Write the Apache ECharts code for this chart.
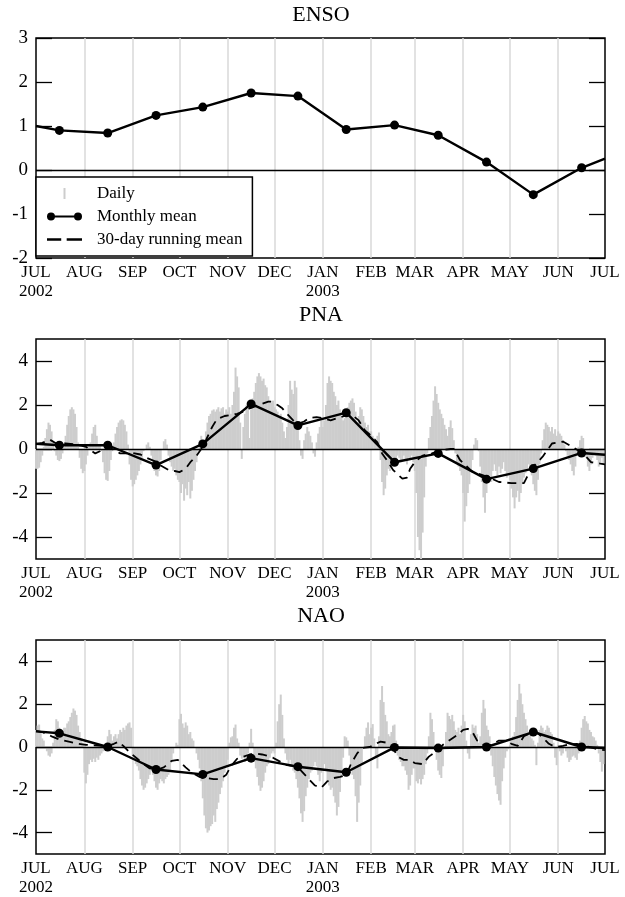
<!DOCTYPE html>
<html>
<head>
<meta charset="utf-8">
<title>ENSO / PNA / NAO</title>
<script src="https://cdn.jsdelivr.net/npm/echarts@6/dist/echarts.min.js"></script>
<style>
html, body { margin: 0; padding: 0; background: #fff; }
#chart { width: 625px; height: 897px; }
</style>
</head>
<body>
<div id="chart"></div>
<script>
// month names for the axis labels
var monthNames = ['JAN','FEB','MAR','APR','MAY','JUN','JUL','AUG','SEP','OCT','NOV','DEC'];

// monthly means sit on the 16th; first and last entries are the line at the frame edges
var monthDates = ['2002-07-01','2002-07-16','2002-08-16','2002-09-16','2002-10-16','2002-11-16','2002-12-16',
  '2003-01-16','2003-02-16','2003-03-16','2003-04-16','2003-05-16','2003-06-16','2003-07-01'];
var ensoMonthly = [1.0, 0.9, 0.84, 1.24, 1.43, 1.75, 1.68, 0.92, 1.02, 0.79, 0.18, -0.56, 0.05, 0.26];
var pnaMonthly = [0.24, 0.17, 0.17, -0.73, 0.23, 2.05, 1.07, 1.65, -0.6, -0.2, -1.37, -0.89, -0.18, -0.26];
var naoMonthly = [0.73, 0.64, 0.0, -1.05, -1.28, -0.52, -0.92, -1.18, -0.02, -0.05, 0.0, 0.7, 0.0, -0.05];

// daily index values, Jul 1 2002 .. Jun 30 2003
var pnaDaily = [
  -0.9,-0.9,-0.85,-0.6,-0.3,0.1,0.5,0.9,1.2,1.1,0.8,0.3,-0.1,-0.3,-0.5,-0.55,-0.45,-0.2,0.1,0.6,1.1,1.5,1.8,1.9,1.8,1.6,1.0,0.3,-0.4,-0.9,-1.1,
  -1.0,-0.7,-0.3,0.1,0.3,0.7,1.0,1.1,0.6,0.2,0.2,-0.1,-0.6,-1.1,-1.4,-1.45,-1.0,-0.5,-0.1,0.3,0.7,1.0,1.2,1.3,1.35,1.3,1.1,0.8,0.2,-0.7,-1.4,
  -1.7,-1.6,-1.4,-1.2,-1.0,-0.7,-0.4,-0.1,0.0,0.2,0.3,0.1,-0.3,-0.7,-1.0,-1.2,-1.25,-1.0,-0.5,0.0,0.35,0.45,0.2,-0.3,-0.6,-0.8,-1.0,-0.9,-1.2,-1.4,
  -1.5,-2.0,-1.6,-2.35,-1.8,-2.1,-1.5,-2.25,-1.9,-1.4,-1.0,-0.6,-0.1,0.4,0.6,0.3,0.2,0.8,1.2,1.5,1.6,1.75,1.8,1.7,1.8,1.9,1.7,1.85,1.9,1.6,1.8,
  1.7,1.9,1.6,2.0,2.6,3.7,3.3,2.8,1.2,-0.45,1.0,1.6,2.0,1.8,0.5,1.8,2.3,2.6,3.0,3.3,3.45,3.3,3.1,3.2,2.9,2.8,2.4,2.2,2.1,2.2,
  1.9,1.8,1.7,1.5,1.6,1.2,0.8,0.5,1.0,2.0,3.1,2.7,2.5,3.1,2.8,1.2,0.4,-0.3,-0.45,0.4,0.7,1.0,0.8,0.6,0.3,-0.2,-0.35,0.3,0.7,1.0,1.3,
  1.0,1.3,2.0,3.0,3.3,3.1,3.0,2.6,2.4,2.0,2.2,1.8,1.5,1.3,1.4,1.6,1.9,2.1,2.2,2.3,2.1,1.7,1.2,1.5,1.9,1.8,1.5,1.2,1.0,1.1,0.8,
  0.8,0.6,0.5,0.3,0.6,0.75,-0.5,-1.5,-2.1,-1.8,-1.2,-0.9,-1.0,-0.8,-0.6,-0.4,-0.5,-0.3,-0.4,-0.6,-0.5,-0.3,-0.5,-0.7,-0.4,-0.5,-0.3,-0.6,
  -1.0,-2.0,-4.0,-4.6,-5.0,-3.8,-2.2,-0.8,-0.2,0.5,1.0,1.5,2.2,2.85,2.5,2.1,1.8,1.6,1.4,1.1,0.9,0.6,1.0,1.3,0.95,0.4,-0.2,-0.6,-0.8,-1.0,-1.2,
  -2.0,-3.3,-2.6,-2.0,-1.6,-1.0,-0.5,0.2,0.5,0.4,-0.1,-0.8,-1.5,-2.2,-2.9,-2.0,-1.4,-1.2,-1.5,-1.0,-0.7,-1.0,-1.2,-0.8,-1.1,-0.9,-0.6,-1.0,-1.3,-1.2,
  -1.4,-1.8,-2.2,-2.7,-2.2,-1.9,-2.4,-2.0,-1.6,-1.3,-1.1,-0.9,-0.7,-0.9,-1.2,-1.6,-1.9,-2.1,-1.4,-0.7,-0.2,0.4,0.9,1.2,1.1,1.0,0.8,1.0,0.7,0.9,0.6,
  0.8,0.7,0.6,0.4,0.2,-0.1,-0.3,-0.5,-0.7,-1.0,-1.2,-0.8,-0.3,0.1,0.4,0.6,0.5,0.0,-0.4,-0.8,-1.0,-0.7,-0.4,-0.2,-0.3,-0.5,-0.8,-0.6,-0.4,-0.7
];
var naoDaily = [
  0.8,1.0,1.05,0.7,0.4,0.3,0.0,-0.2,-0.4,-0.45,-0.3,0.2,0.8,1.3,1.2,0.9,0.8,0.7,0.9,0.9,1.1,1.2,1.4,1.6,1.8,1.7,1.5,1.0,0.7,0.4,0.2,
  -1.2,-1.7,-1.3,-0.8,-0.6,-0.7,-0.55,-0.7,-0.5,-0.6,-0.4,-0.3,-0.2,-0.1,0.1,0.5,0.8,0.6,0.3,0.5,0.6,0.4,0.6,0.8,0.7,0.9,0.8,1.0,1.1,1.15,0.9,
  -0.4,-0.6,-0.8,-0.9,-1.1,-1.5,-1.8,-2.0,-1.9,-1.7,-1.5,-1.3,-1.1,-1.3,-1.6,-1.9,-2.0,-1.7,-1.5,-1.6,-1.7,-1.5,-1.4,-1.3,-1.1,-0.7,-0.3,0.0,0.2,0.1,
  1.3,1.55,1.1,0.9,1.15,1.0,0.6,0.7,0.4,0.3,0.0,-0.3,-0.6,-1.0,-1.6,-2.4,-3.2,-3.8,-4.0,-3.9,-3.7,-3.6,-3.2,-3.5,-2.9,-2.6,-2.2,-1.9,-1.6,-1.2,-0.9,
  -0.6,0.2,0.45,0.5,0.9,1.05,0.4,0.2,-0.4,-0.55,-0.5,-0.7,-0.65,-0.3,0.2,0.85,0.2,-0.7,-1.0,-1.4,-1.8,-2.05,-1.9,-1.6,-1.2,-0.9,-0.8,-0.5,-0.3,-0.2,
  -0.3,0.2,1.2,2.0,2.45,1.5,0.4,-0.3,-0.6,-0.8,-0.6,-0.9,-1.1,-1.2,-1.5,-1.9,-2.4,-3.1,-3.5,-3.0,-2.3,-1.9,-1.5,-1.2,-1.1,-0.9,-0.7,-0.9,-1.3,-1.6,-1.2,
  -1.0,-0.8,-1.1,-1.6,-1.8,-2.0,-1.9,-2.3,-2.6,-3.2,-2.8,-2.1,-1.4,-0.5,0.5,0.45,0.3,-0.4,-1.0,-1.3,-1.5,-2.3,-3.5,-2.6,-1.8,-0.8,0.0,0.5,0.9,1.15,0.6,
  0.9,1.07,0.4,-0.5,-1.0,0.5,2.2,2.85,2.1,1.5,1.2,0.6,0.5,0.7,1.0,1.05,0.3,-0.4,-0.6,-0.7,-0.9,-0.9,-1.1,-1.3,-2.0,-1.8,-1.3,-1.0,
  -1.0,-1.6,-1.7,-1.5,-1.75,-1.5,-1.3,-0.8,-0.3,0.5,1.6,1.3,0.7,0.1,-0.6,-1.1,-1.3,-1.45,-0.9,-0.1,0.7,1.6,1.45,1.3,1.5,1.2,0.8,0.7,0.9,0.6,1.0,
  1.5,1.2,0.3,-0.3,-0.55,0.6,1.05,0.9,1.0,0.6,0.2,0.5,1.6,2.2,1.8,1.0,0.8,0.5,-0.4,-0.9,-1.4,-1.8,-2.2,-2.5,-2.7,-1.6,-1.0,-0.5,-0.2,-0.1,
  0.1,0.3,0.5,0.7,1.4,2.2,2.95,2.5,2.0,1.6,1.3,1.0,0.7,0.6,0.4,0.3,0.1,-0.85,0.2,0.8,1.0,0.9,0.7,0.8,1.0,0.9,0.7,0.6,0.2,-0.5,-0.85,
  0.1,-0.2,-0.4,-0.3,0.0,-0.2,-0.5,-0.7,-0.6,-0.45,-0.4,-0.5,-0.6,-0.3,0.3,0.9,1.3,1.45,1.2,1.1,0.8,0.7,0.5,0.45,0.3,0.1,-0.3,-0.7,-1.15,-0.8
];

// 30-day running mean: [day since Jul 1 2002, value]
var pnaRunning = [[0,0.22],[4,0.28],[9,0.42],[13,0.25],[19,0.25],[24,0.22],[29,0.15],[32,0.1],[35,-0.05],[38,-0.2],[41,-0.1],
  [44,0.05],[47,0.1],[50,-0.05],[54,-0.2],[58,-0.2],[62,-0.18],[67,-0.25],[71,-0.4],[76,-0.55],[80,-0.75],[85,-0.95],[89,-1.0],
  [92,-1.05],[96,-0.9],[99,-0.6],[103,-0.3],[106,0.0],[109,0.4],[113,1.0],[116,1.35],[121,1.5],[125,1.55],[129,1.6],[133,1.7],
  [137,1.85],[141,1.95],[145,2.05],[149,2.15],[151,2.15],[155,2.0],[158,1.85],[161,1.6],[165,1.3],[168,1.15],[172,1.25],[175,1.4],
  [180,1.45],[184,1.4],[189,1.3],[193,1.4],[198,1.5],[202,1.6],[207,1.3],[211,0.85],[215,0.6],[219,0.3],[222,-0.2],[226,-0.6],
  [229,-0.95],[232,-1.15],[235,-1.35],[238,-1.3],[240,-0.9],[243,-0.6],[248,-0.3],[254,-0.2],[260,-0.05],[266,0.0],[268,0.0],
  [272,-0.5],[280,-1.04],[290,-1.27],[297,-1.5],[305,-1.55],[313,-1.55],[315,-1.27],[319,-0.8],[325,-0.35],[331,0.25],[338,0.34],
  [344,0.1],[351,-0.2],[356,-0.6],[362,-0.66],[365,-0.7]];
var naoRunning = [[0,0.75],[4,0.7],[10,0.5],[15,0.35],[21,0.25],[27,0.15],[32,0.1],[37,0.08],[42,0.05],[46,0.05],[50,0.15],
  [53,0.25],[56,0.05],[60,-0.25],[65,-0.55],[69,-0.8],[73,-1.0],[78,-1.05],[82,-0.95],[87,-0.65],[91,-0.6],[96,-0.95],[100,-1.2],
  [105,-1.4],[109,-1.45],[114,-1.5],[118,-1.5],[122,-1.3],[125,-0.9],[129,-0.55],[133,-0.45],[137,-0.35],[141,-0.3],[145,-0.35],
  [148,-0.4],[152,-0.5],[157,-0.7],[161,-0.85],[166,-0.9],[170,-1.1],[175,-1.5],[179,-1.8],[183,-1.9],[187,-1.6],[191,-1.45],
  [195,-1.4],[199,-1.3],[202,-0.8],[206,-0.3],[209,-0.05],[214,0.0],[218,0.15],[221,0.25],[225,0.2],[229,-0.05],[232,-0.45],
  [236,-0.6],[239,-0.6],[243,-0.75],[248,-0.8],[252,-0.45],[257,-0.2],[261,0.1],[266,0.35],[270,0.55],[274,0.8],[277,0.85],
  [280,0.7],[283,0.3],[288,0.05],[292,0.1],[297,0.3],[301,0.3],[305,0.15],[309,0.05],[313,0.5],[317,0.65],[321,0.7],[325,0.45],
  [329,0.15],[333,0.0],[338,0.05],[342,0.12],[347,0.15],[351,0.05],[355,0.0],[360,-0.1],[365,-0.15]];

var ensoTicks = [-2, -1, 0, 1, 2, 3];
var bigTicks = [-4, -2, 0, 2, 4];

// one category per day, Jul 1 2002 .. Jul 1 2003
var days = [];
for (var i = 0; i < 366; i++) {
  days.push(new Date(Date.UTC(2002, 6, 1) + i * 86400000).toISOString().slice(0, 10));
}

var serif = "'Liberation Serif', 'DejaVu Serif', serif";

function isMonthStart(idx) { return days[idx].slice(8) === '01'; }
function isInnerMonthStart(idx) { return idx > 0 && idx < days.length - 1 && isMonthStart(idx); }
function monthLabel(value) {
  var m = monthNames[+value.slice(5, 7) - 1];
  if (value === '2002-07-01' || value === '2003-01-01') return m + '\n' + value.slice(0, 4);
  return m;
}

var grids = [
  { left: 36, top: 38, width: 569, height: 220 },
  { left: 36, top: 339, width: 569, height: 220 },
  { left: 36, top: 640, width: 569, height: 219 }
];
var ranges = [[-2, 3, ensoTicks], [-5, 5, bigTicks], [-5, 5, bigTicks]];

var xAxes = [], yAxes = [], series = [];
grids.forEach(function (g, i) {
  g.show = true;
  g.borderColor = '#000';
  g.borderWidth = 1.5;
  xAxes.push({
    type: 'category', gridIndex: i, data: days, boundaryGap: false,
    axisLine: { show: false }, axisTick: { show: false },
    axisLabel: { interval: function (idx) { return isMonthStart(idx); }, formatter: monthLabel,
      fontFamily: serif, fontSize: 17, lineHeight: 19, color: '#000', margin: 5 },
    splitLine: { show: true, interval: function (idx) { return isInnerMonthStart(idx); },
      lineStyle: { color: '#d8d8d8', width: 1.5 } }
  });
  var r = ranges[i];
  ['left', 'right'].forEach(function (pos) {
    yAxes.push({
      type: 'value', gridIndex: i, min: r[0], max: r[1], position: pos,
      axisLine: { show: false },
      axisTick: { show: true, inside: true, length: 16, customValues: r[2], lineStyle: { color: '#000', width: 1.3 } },
      axisLabel: { show: pos === 'left', customValues: r[2], fontFamily: serif, fontSize: 19, color: '#000', margin: 8 },
      splitLine: { show: false }
    });
  });
});

function monthlySeries(i, vals) {
  return {
    name: 'Monthly mean', type: 'line', xAxisIndex: i, yAxisIndex: 2 * i, z: 4,
    showAllSymbol: true,
    data: monthDates.map(function (d, k) {
      var edge = k === 0 || k === monthDates.length - 1;
      return { value: [d, vals[k]], symbol: edge ? 'none' : 'circle' };
    }),
    symbolSize: 9, itemStyle: { color: '#000' }, lineStyle: { color: '#000', width: 2.4 },
    markLine: { silent: true, symbol: ['none', 'none'], label: { show: false },
      lineStyle: { color: '#000', width: 1.3, type: 'solid' }, data: [{ yAxis: 0 }] }
  };
}
function dailySeries(i, vals) {
  return { name: 'Daily', type: 'bar', xAxisIndex: i, yAxisIndex: 2 * i, z: 2,
    data: vals, barWidth: 2, itemStyle: { color: '#cdcdcd' } };
}
function runningSeries(i, pts) {
  return { name: '30-day running mean', type: 'line', xAxisIndex: i, yAxisIndex: 2 * i, z: 3,
    data: pts.map(function (p) { return [days[p[0]], p[1]]; }), symbol: 'none',
    lineStyle: { color: '#000', width: 1.8, type: [9, 6] }, itemStyle: { color: '#000' } };
}

series.push(monthlySeries(0, ensoMonthly));
series.push(dailySeries(1, pnaDaily), runningSeries(1, pnaRunning), monthlySeries(1, pnaMonthly));
series.push(dailySeries(2, naoDaily), runningSeries(2, naoRunning), monthlySeries(2, naoMonthly));

function titleAt(text, top) {
  return { text: text, left: 321, top: top, textAlign: 'center', padding: 0,
    textStyle: { fontFamily: serif, fontSize: 22, fontWeight: 'normal', color: '#000' } };
}

var chart = echarts.init(document.getElementById('chart'));
chart.setOption({
  animation: false,
  backgroundColor: '#fff',
  title: [titleAt('ENSO', 4), titleAt('PNA', 304), titleAt('NAO', 605)],
  legend: {
    orient: 'vertical', left: 36, top: 177, padding: [8, 10, 8, 11],
    itemWidth: 35, itemHeight: 11, itemGap: 6, selectedMode: false,
    backgroundColor: '#fff', borderColor: '#000', borderWidth: 1.5, borderRadius: 0,
    itemStyle: { borderWidth: 0 },
    textStyle: { fontFamily: serif, fontSize: 17, color: '#000', padding: [0, 0, 0, 10] },
    data: [
      { name: 'Daily', icon: 'path://M0,0h2v11h-2z' },
      { name: 'Monthly mean', icon: 'path://M4,3h27v2h-27zM0,4a4,4 0 1,1 8,0a4,4 0 1,1 -8,0zM27,4a4,4 0 1,1 8,0a4,4 0 1,1 -8,0z' },
      { name: '30-day running mean', icon: 'path://M0,0h13v2.5h-13zM18,0h14v2.5h-14z' }
    ]
  },
  grid: grids,
  xAxis: xAxes,
  yAxis: yAxes,
  series: series
});
</script>
</body>
</html>
